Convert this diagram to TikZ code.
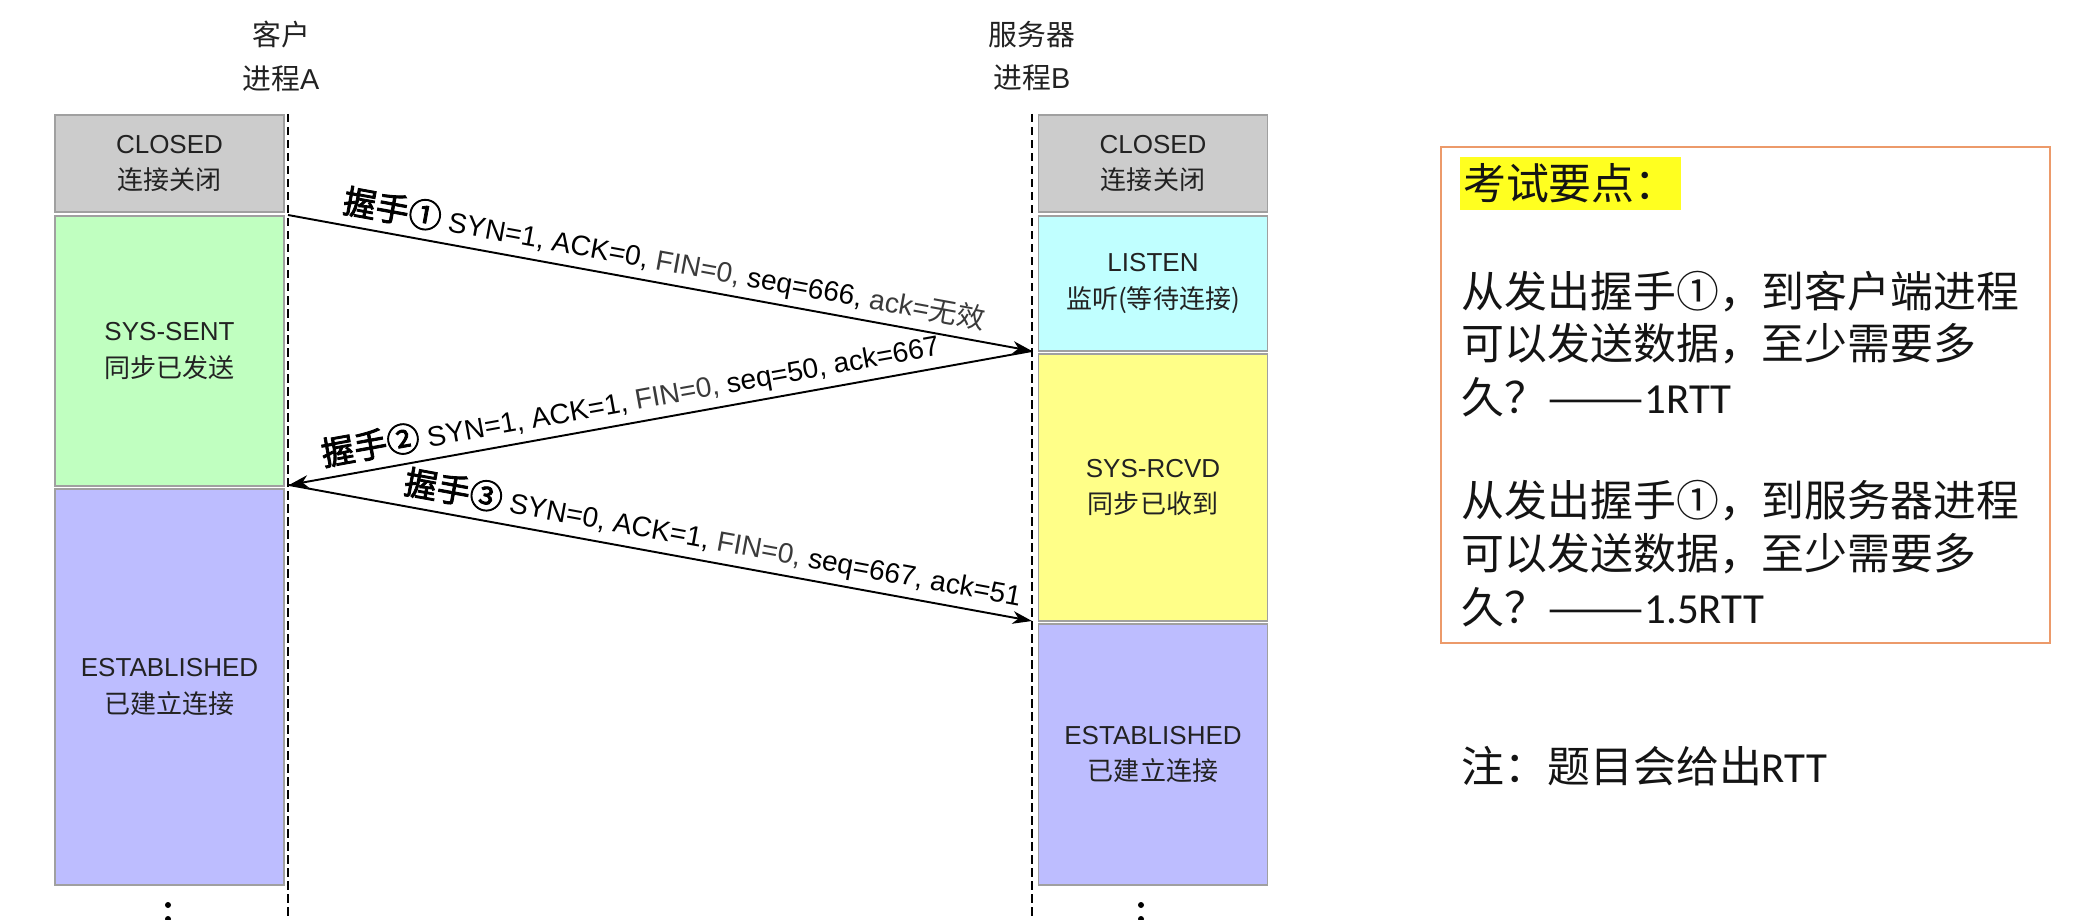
\documentclass[tikz,border=0pt]{standalone}
\usepackage{fontspec}
\setmainfont{Liberation Sans}
\newfontfamily\cjk{Noto Sans CJK SC}[AutoFakeBold=2.5]
\newfontfamily\cjkwide{Noto Sans CJK SC}[FakeStretch=1.35]
\newfontfamily\carl{Carlito}
\usetikzlibrary{arrows.meta}
\definecolor{cgray}{HTML}{CCCCCC}
\definecolor{cgreen}{HTML}{C0FFC0}
\definecolor{ccyan}{HTML}{C0FFFF}
\definecolor{cyel}{HTML}{FFFF88}
\definecolor{cblue}{HTML}{BDBDFF}
\definecolor{cborder}{HTML}{A0A0A0}
\definecolor{corange}{HTML}{EC9A6A}
\definecolor{chl}{HTML}{FFFF20}
\definecolor{ctxt}{HTML}{222222}
\definecolor{clt}{HTML}{3A3A3A}
\tikzset{
 statebox/.style={draw=cborder, line width=0.4pt, text=ctxt, align=center, inner sep=0pt,
   minimum width=229*0.2845pt, font=\fontsize{7.4pt}{10.5pt}\selectfont},
 life/.style={line width=0.5pt, dash pattern=on 2.4pt off 1.3pt},
 msg/.style={line width=0.55pt, -{Stealth[length=5.5pt,width=3.6pt,inset=1.6pt]}},
 msglabel/.style={sloped, above=1.3pt, inner sep=0.3pt, font=\fontsize{8pt}{9.6pt}\selectfont},
 head/.style={align=center, text=ctxt, font=\fontsize{8.2pt}{12.5pt}\selectfont},
 note/.style={anchor=west, inner sep=0pt, text=black!92, font=\fontsize{12.2pt}{15pt}\selectfont},
}
\newcommand{\hsk}[1]{{\cjk\bfseries\fontsize{9.4pt}{10pt}\selectfont #1}}
\begin{document}
\begin{tikzpicture}[x=0.2845pt,y=-0.2845pt]
\useasboundingbox (0,0) rectangle (2100,920);
\fill[white] (0,0) rectangle (2100,920);

% headers
\node[head] (hA) at (281,56) {{\cjk 客户}\\{\cjk 进程}A};
\node[head] (hB) at (1032,56) {{\cjk 服务器}\\{\cjk 进程}B};

% client states
\node[statebox, fill=cgray, minimum height=97*0.2845pt] (aC) at (169.5,163.5) {CLOSED\\{\cjk 连接关闭}};
\node[statebox, fill=cgreen, minimum height=270*0.2845pt] (aS) at (169.5,351) {SYS-SENT\\{\cjk 同步已发送}};
\node[statebox, fill=cblue, minimum height=396*0.2845pt] (aE) at (169.5,687) {ESTABLISHED\\{\cjk 已建立连接}};

% server states
\node[statebox, fill=cgray, minimum height=97*0.2845pt] (bC) at (1153,163.5) {CLOSED\\{\cjk 连接关闭}};
\node[statebox, fill=ccyan, minimum height=135*0.2845pt] (bL) at (1153,283.5) {LISTEN\\{\cjk 监听(等待连接)}};
\node[statebox, fill=cyel, minimum height=267*0.2845pt] (bR) at (1153,487.5) {SYS-RCVD\\{\cjk 同步已收到}};
\node[statebox, fill=cblue, minimum height=261*0.2845pt] (bE) at (1153,754.5) {ESTABLISHED\\{\cjk 已建立连接}};

% life lines
\coordinate (Atop) at (288,114);
\coordinate (Abot) at (288,920);
\coordinate (Btop) at (1032,114);
\coordinate (Bbot) at (1032,920);
\draw[life] (Atop) -- (Abot);
\draw[life] (Btop) -- (Bbot);

% dots
\fill (168,905) circle (3);
\fill (168,919) circle (3);
\fill (1141,905) circle (3);
\fill (1141,919) circle (3);

% messages
\coordinate (a1) at (288,215);
\coordinate (b1) at (1032,351);
\coordinate (a2) at (289,485);
\coordinate (b2) at (1032,621);
\draw[msg] (a1) -- node[msglabel, pos=0.5] {\hsk{握手①} SYN=1, ACK=0, {\color{clt}FIN=0,} seq=666, {\color{clt}ack={\cjk 无效}}} (b1);
\draw[msg] (b1) -- node[msglabel, pos=0.535] {\hsk{握手②} SYN=1, ACK=1, {\color{clt}FIN=0,} seq=50, ack=667} (a2);
\draw[msg] (a2) -- node[msglabel, pos=0.565] {\hsk{握手③} SYN=0, ACK=1, {\color{clt}FIN=0,} seq=667, ack=51} (b2);

% key points box
\node[draw=corange, line width=0.8pt, minimum width=609*0.2845pt, minimum height=496*0.2845pt, inner sep=0pt] (kbox) at (1745.5,395) {};
\node[note, fill=chl, inner xsep=1pt, minimum height=53*0.2845pt] (kt) at (1459,183.5) {\cjk 考试要点：};
\node[note] (k1) at (1461,292) {\cjk 从发出握手①，到客户端进程};
\node[note] (k2) at (1461,344) {\cjk 可以发送数据，至少需要多};
\node[note] (k3) at (1461,397) {{\cjk 久？}{\cjkwide ——}{\carl 1RTT}};
\node[note] (k4) at (1461,501) {\cjk 从发出握手①，到服务器进程};
\node[note] (k5) at (1461,554) {\cjk 可以发送数据，至少需要多};
\node[note] (k6) at (1461,607) {{\cjk 久？}{\cjkwide ——}{\carl 1.5RTT}};
\node[note] (nt) at (1461,766) {{\cjk 注：题目会给出}{\carl RTT}};
\end{tikzpicture}
\end{document}
